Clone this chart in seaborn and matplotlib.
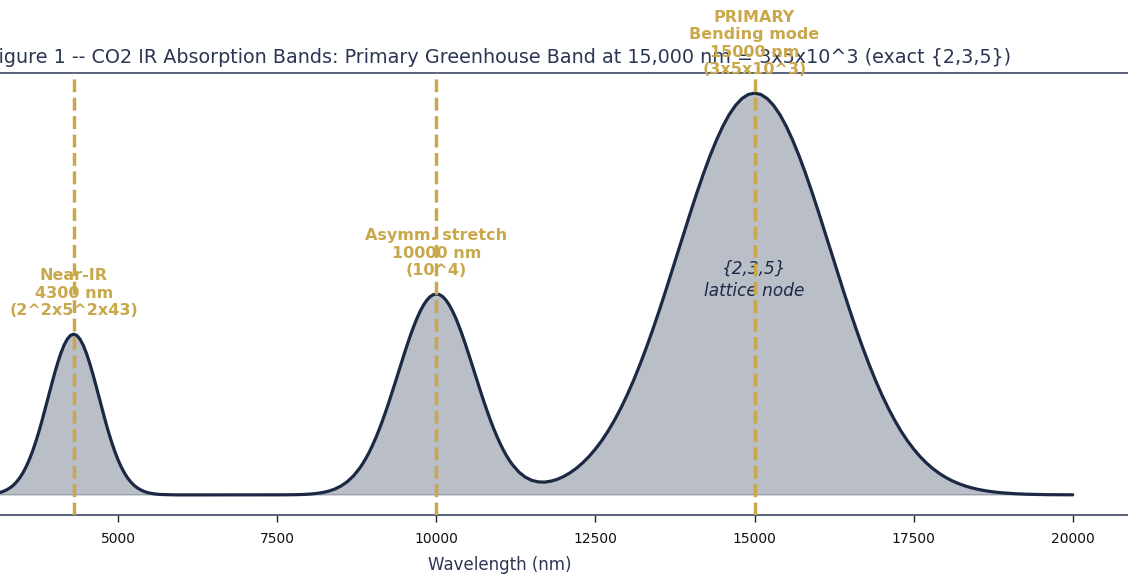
import matplotlib
matplotlib.use("Agg")
import matplotlib.pyplot as plt
import pandas as pd
import seaborn as sns

# ---- data (wavelength nm -> absorbance) ----
wl_left = [2000, 2200, 2400, 2600, 2800]
ab_left = [0.0000, 0.0000, 0.0000, 0.0000, 0.0004]

wl_band1 = [2900, 2950, 3000, 3050, 3100, 3150, 3200, 3250, 3300, 3350, 3400,
            3450, 3500, 3550, 3600, 3650, 3700, 3750, 3800, 3850, 3900, 3950,
            4000, 4050, 4100, 4150, 4200, 4250, 4300, 4350, 4400, 4450, 4500,
            4550, 4600, 4650, 4700, 4750, 4800, 4850, 4900, 4950, 5000, 5050,
            5100, 5150, 5200, 5250, 5300, 5350, 5400, 5450, 5500, 5550, 5600,
            5650, 5700]
ab_band1 = [0.0009, 0.0013, 0.0020, 0.0030, 0.0044, 0.0064, 0.0091, 0.0128,
            0.0176, 0.0238, 0.0318, 0.0418, 0.0541, 0.0690, 0.0865, 0.1068,
            0.1299, 0.1554, 0.1831, 0.2124, 0.2426, 0.2728, 0.3019, 0.3290,
            0.3530, 0.3728, 0.3877, 0.3969, 0.4000, 0.3969, 0.3877, 0.3728,
            0.3530, 0.3290, 0.3019, 0.2728, 0.2426, 0.2124, 0.1831, 0.1554,
            0.1299, 0.1068, 0.0865, 0.0690, 0.0541, 0.0418, 0.0318, 0.0238,
            0.0176, 0.0128, 0.0091, 0.0064, 0.0044, 0.0030, 0.0020, 0.0013,
            0.0009]

wl_gap = [5800, 5900, 6000, 6500, 7000, 7400, 7500, 7600, 7700, 7800, 7900,
          8000, 8100, 8200, 8300, 8400, 8500, 8600, 8700]
ab_gap = [0.0004, 0.0001, 0.0000, 0.0000, 0.0000, 0.0000, 0.0001, 0.0002,
          0.0003, 0.0006, 0.0011, 0.0019, 0.0033, 0.0056, 0.0090, 0.0143,
          0.0220, 0.0329, 0.0478]

wl_band2 = [8800, 8850, 8900, 8950, 9000, 9050, 9100, 9150, 9200, 9250, 9300,
            9350, 9400, 9450, 9500, 9550, 9600, 9650, 9700, 9750, 9800, 9850,
            9900, 9950, 10000, 10050, 10100, 10150, 10200, 10250, 10300,
            10350, 10400, 10450, 10500, 10550, 10600, 10650, 10700, 10750,
            10800, 10850, 10900, 10950, 11000, 11050, 11100, 11150, 11200]
ab_band2 = [0.0677, 0.0797, 0.0931, 0.1081, 0.1247, 0.1428, 0.1623, 0.1833,
            0.2056, 0.2289, 0.2532, 0.2781, 0.3033, 0.3285, 0.3533, 0.3774,
            0.4004, 0.4218, 0.4413, 0.4584, 0.4730, 0.4846, 0.4931, 0.4983,
            0.5002, 0.4985, 0.4933, 0.4849, 0.4733, 0.4588, 0.4418, 0.4223,
            0.4010, 0.3782, 0.3542, 0.3295, 0.3045, 0.2795, 0.2548, 0.2308,
            0.2078, 0.1858, 0.1652, 0.1462, 0.1286, 0.1125, 0.0982, 0.0855,
            0.0744]

wl_band3 = [11300, 11400, 11500, 11600, 11700, 11800, 11900, 12000, 12100,
            12200, 12300, 12400, 12500, 12600, 12700, 12800, 12900, 13000,
            13100, 13200, 13300, 13400, 13500, 13600, 13700, 13800, 13900,
            14000, 14100, 14200, 14300, 14400, 14500, 14600, 14700, 14800,
            14900, 15000, 15100, 15200, 15300, 15400, 15500, 15600, 15700,
            15800, 15900, 16000, 16100, 16200, 16300, 16400, 16500, 16600,
            16700, 16800, 16900, 17000, 17100, 17200, 17300, 17400, 17500,
            17600, 17700, 17800, 17900, 18000, 18100, 18200, 18300, 18400,
            18500, 18600, 18700, 18800, 18900, 19000, 19100, 19200, 19300,
            19400, 19500, 19600, 19700, 19800, 19900, 20000]
ab_band3 = [0.0564, 0.0440, 0.0362, 0.0324, 0.0318, 0.0342, 0.0388, 0.0458,
            0.0550, 0.0663, 0.0799, 0.0958, 0.1143, 0.1353, 0.1593, 0.1863,
            0.2163, 0.2494, 0.2855, 0.3247, 0.3666, 0.4111, 0.4578, 0.5063,
            0.5561, 0.6065, 0.6570, 0.7066, 0.7548, 0.8007, 0.8436, 0.8825,
            0.9169, 0.9460, 0.9692, 0.9862, 0.9965, 1.0000, 0.9965, 0.9862,
            0.9692, 0.9460, 0.9169, 0.8825, 0.8436, 0.8007, 0.7548, 0.7066,
            0.6570, 0.6065, 0.5561, 0.5063, 0.4578, 0.4111, 0.3666, 0.3247,
            0.2855, 0.2494, 0.2163, 0.1863, 0.1593, 0.1353, 0.1142, 0.0956,
            0.0796, 0.0657, 0.0539, 0.0439, 0.0355, 0.0286, 0.0228, 0.0181,
            0.0142, 0.0111, 0.0086, 0.0067, 0.0051, 0.0039, 0.0029, 0.0022,
            0.0016, 0.0012, 0.0009, 0.0006, 0.0005, 0.0003, 0.0002, 0.0002]

band_centers = [4300, 10000, 15000]
band_peaks = [0.40, 0.50, 1.00]
band_labels = [
    "Near-IR\n4300 nm\n(2^2x5^2x43)",
    "Asymm. stretch\n10000 nm\n(10^4)",
    "PRIMARY\nBending mode\n15000 nm\n(3x5x10^3)",
]
node_label = "{2,3,5}\nlattice node"
node_position = (15000, 0.535)
x_ticks = [5000, 7500, 10000, 12500, 15000, 17500, 20000]
title_text = ("Figure 1 -- CO2 IR Absorption Bands: Primary Greenhouse Band at "
              "15,000 nm = 3x5x10^3 (exact {2,3,5})")
x_label = "Wavelength (nm)"

wavelength_nm = wl_left + wl_band1 + wl_gap + wl_band2 + wl_band3
absorbance = ab_left + ab_band1 + ab_gap + ab_band2 + ab_band3

# ---- styling ----
NAVY = "#1c2944"
GOLD = "#c9a84c"
SLATE = "#4a5570"
TITLE_C = "#2b3654"

sns.set_theme(style="white")
plt.rcParams["font.family"] = ["DejaVu Sans"]

fig = plt.figure(figsize=(11.28, 5.8), dpi=100)
ax = fig.add_axes([-130 / 1128, 65 / 580, 1260 / 1128, 442 / 580])

df = pd.DataFrame({"wavelength": wavelength_nm, "absorbance": absorbance})
ax.fill_between(df["wavelength"], df["absorbance"], color=NAVY, alpha=0.3,
                zorder=1)
sns.lineplot(data=df, x="wavelength", y="absorbance", color=NAVY,
             linewidth=2.3, ax=ax, zorder=2, sort=False)

for c, p, lab in zip(band_centers, band_peaks, band_labels):
    ax.axvline(c, color=GOLD, linestyle="--", linewidth=2.5, zorder=4)
    ax.text(c, p + 0.04, lab, ha="center", va="bottom", color=GOLD,
            fontsize=11.5, fontweight="bold", zorder=5)

ax.text(node_position[0], node_position[1], node_label, ha="center",
        va="center", color=NAVY, fontsize=12.2, fontstyle="italic",
        linespacing=1.25, zorder=3)

ax.set_xlim(1100, 20900)
ax.set_ylim(-0.05, 1.05)
ax.set_xticks(x_ticks)
ax.set_yticks([])
ax.set_ylabel("")
ax.set_xlabel(x_label, fontsize=12, color=TITLE_C, labelpad=7.5)
ax.set_title(title_text, fontsize=13.8, color=TITLE_C, pad=7.5)
ax.tick_params(axis="x", bottom=True, length=5, width=1, color="#222222",
               pad=7, labelsize=10, labelcolor="#111111")
for side, sp in ax.spines.items():
    sp.set_color(SLATE)
    sp.set_linewidth(1.3)

fig.savefig("out.png", dpi=100)
